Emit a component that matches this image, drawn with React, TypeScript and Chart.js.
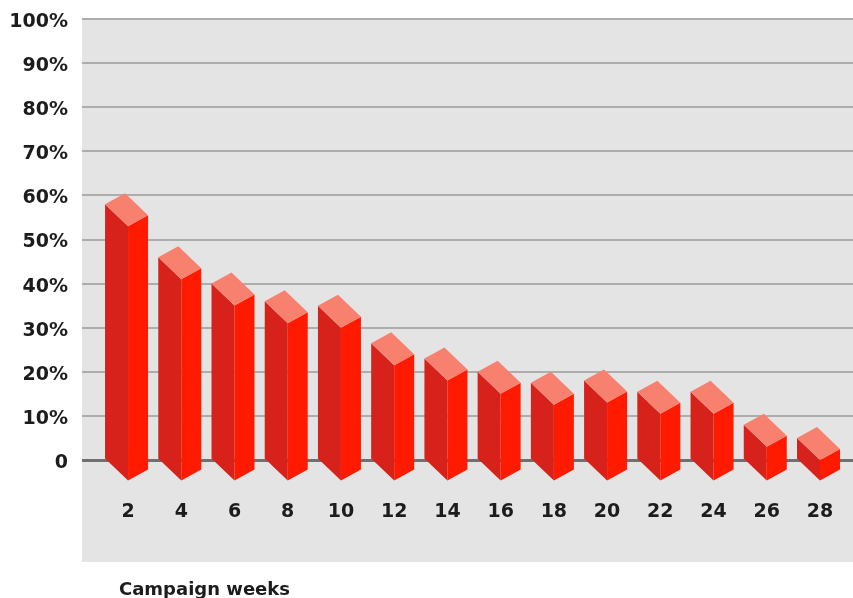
import { useEffect, useRef } from 'react';
import { Chart, registerables } from 'chart.js';

Chart.register(...registerables);

// Campaign week numbers and the share reached in each week (%)
const weeks = [2, 4, 6, 8, 10, 12, 14, 16, 18, 20, 22, 24, 26, 28];
const reach = [58, 46, 40, 36, 35, 26.5, 23, 20, 17.5, 18, 15.5, 15.5, 8, 5];
const percentTicks = [0, 10, 20, 30, 40, 50, 60, 70, 80, 90, 100];
const axisTitle = 'Campaign weeks';

const FONT = '"DejaVu Sans", sans-serif';
const TEXT = '#1c1c1c';
const PANEL = '#e4e4e4';
const GRID = '#adadad';
const ZERO_LINE = '#707070';
const FACE_LEFT = '#d6221a';
const FACE_RIGHT = '#ff1a00';
const FACE_TOP = '#f8806f';

// Box geometry: the front edge sits on the tick, faces recede to the left and right
const LEFT_W = 23;
const RIGHT_W = 20;
const LEFT_DROP = 22;
const RIGHT_RISE = 11;
const PANEL_BELOW_ZERO = 102;

type Pt = [number, number];

function fillPoly(ctx: CanvasRenderingContext2D, pts: Pt[], color: string) {
  ctx.beginPath();
  ctx.moveTo(pts[0][0], pts[0][1]);
  for (let i = 1; i < pts.length; i++) ctx.lineTo(pts[i][0], pts[i][1]);
  ctx.closePath();
  ctx.fillStyle = color;
  ctx.fill();
}

const panelPlugin = {
  id: 'panel',
  beforeDraw(chart: any) {
    const { ctx, chartArea } = chart;
    ctx.save();
    ctx.fillStyle = PANEL;
    ctx.fillRect(
      chartArea.left,
      chartArea.top,
      chartArea.right - chartArea.left,
      chartArea.bottom - chartArea.top + PANEL_BELOW_ZERO
    );
    ctx.restore();
  },
};

const boxPlugin = {
  id: 'boxes',
  afterDatasetsDraw(chart: any) {
    const ctx: CanvasRenderingContext2D = chart.ctx;
    const meta = chart.getDatasetMeta(0);
    ctx.save();
    meta.data.forEach((el: any) => {
      const { x, y, base } = el.getProps(['x', 'y', 'base'], true);
      const L = x - LEFT_W;
      const R = x + RIGHT_W;
      const fTop = y + LEFT_DROP;
      const fBot = base + LEFT_DROP;
      fillPoly(ctx, [[L, y], [x, fTop], [x, fBot], [L, base]], FACE_LEFT);
      fillPoly(ctx, [[x, fTop], [R, fTop - RIGHT_RISE], [R, fBot - RIGHT_RISE], [x, fBot]], FACE_RIGHT);
      fillPoly(ctx, [[L, y], [L + RIGHT_W, y - RIGHT_RISE], [R, fTop - RIGHT_RISE], [x, fTop]], FACE_TOP);
    });
    ctx.restore();
  },
};

const titlePlugin = {
  id: 'bottomTitle',
  afterDraw(chart: any) {
    const { ctx, chartArea, height } = chart;
    ctx.save();
    ctx.font = `bold 18px ${FONT}`;
    ctx.fillStyle = TEXT;
    ctx.textAlign = 'left';
    ctx.textBaseline = 'alphabetic';
    ctx.fillText(axisTitle, chartArea.left + 37, height - 3);
    ctx.restore();
  },
};

export default function App() {
  const canvasRef = useRef<HTMLCanvasElement | null>(null);

  useEffect(() => {
    if (!canvasRef.current) return;
    const chart = new Chart(canvasRef.current, {
      type: 'bar',
      data: {
        datasets: [
          {
            data: weeks.map((w, i) => ({ x: w, y: reach[i] })),
            backgroundColor: 'rgba(0,0,0,0)',
            borderWidth: 0,
            barThickness: 43,
          },
        ],
      },
      options: {
        responsive: false,
        animation: false,
        layout: { padding: { top: 19, left: 0, right: 0, bottom: 0 } },
        plugins: {
          legend: { display: false },
          tooltip: { enabled: false },
          title: { display: false },
        },
        scales: {
          x: {
            type: 'linear',
            offset: false,
            min: 0.27,
            max: 29.24,
            grid: { display: false, drawTicks: false },
            border: { display: false },
            afterFit: (scale: any) => {
              scale.height = 138;
              scale.paddingLeft = 0;
              scale.paddingRight = 0;
            },
            afterBuildTicks: (scale: any) => {
              scale.ticks = weeks.map((w) => ({ value: w }));
            },
            ticks: {
              autoSkip: false,
              maxRotation: 0,
              padding: 41,
              color: TEXT,
              font: { family: FONT, size: 19, weight: 'bold' },
              callback: (v: any) => String(v),
            },
          },
          y: {
            min: 0,
            max: 100,
            afterFit: (scale: any) => {
              scale.width = 82;
              scale.paddingTop = 0;
              scale.paddingBottom = 0;
            },
            afterBuildTicks: (scale: any) => {
              scale.ticks = percentTicks.map((v) => ({ value: v }));
            },
            border: { display: false },
            grid: {
              drawTicks: false,
              color: (c: any) => (c.tick && c.tick.value === 0 ? ZERO_LINE : GRID),
              lineWidth: (c: any) => (c.tick && c.tick.value === 0 ? 3 : 2),
            },
            ticks: {
              padding: 14,
              labelOffset: 3,
              color: TEXT,
              font: { family: FONT, size: 19, weight: 'bold' },
              callback: (v: any) => (Number(v) === 0 ? '0' : `${v}%`),
            },
          },
        },
      },
      plugins: [panelPlugin, boxPlugin, titlePlugin],
    } as any);
    return () => chart.destroy();
  }, []);

  return (
    <div style={{ position: 'fixed', left: 0, top: 0, width: 853, height: 598, background: '#ffffff' }}>
      <canvas ref={canvasRef} width={853} height={598} style={{ display: 'block' }} />
    </div>
  );
}
